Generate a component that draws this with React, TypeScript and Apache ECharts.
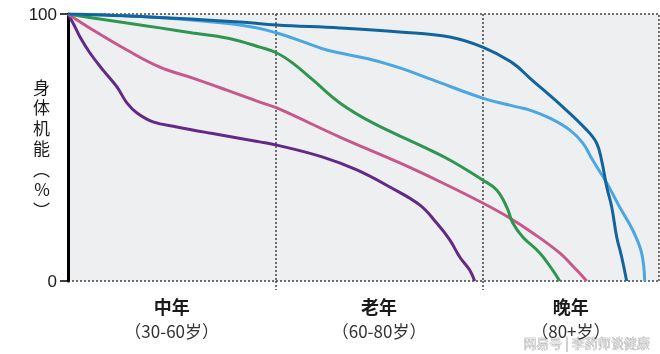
import React, { useEffect, useRef } from 'react';
import * as echarts from 'echarts';

// x: life-course position (0 = 30 yrs, 100 = 60 yrs, 200 = 80 yrs), y: body function %
const stageNames = ['中年', '老年', '晚年'];
const stageAges = ['（30-60岁）', '（60-80岁）', '（80+岁）'];
const stageCenters = [50, 150, 242.5];
const stageBounds = [100, 200];
const xMax = 285;
const yTickInterval = 100;
const yAxisName = '身\n体\n机\n能\n︵\n%\n︶';
const watermark = '网易号 | 李药师谈健康';

const darkBlue: [number, number][] = [
  [0, 100], [39.5, 98.9], [82.9, 97.0], [100.7, 95.9], [131.1, 94.8], [160, 93.3],
  [184.1, 91.4], [200, 87.6], [214.5, 81.6], [222.7, 76.0], [238.6, 65.2], [250.1, 56.6],
  [254.9, 51.7], [257.3, 45.3], [259.8, 35.2], [262.2, 27.7], [264.6, 16.5], [267.0, 9.0],
  [269.4, 0],
];
const lightBlue: [number, number][] = [
  [0, 100], [39.5, 98.9], [82.9, 95.9], [100.7, 92.9], [115.2, 89.1], [124.8, 86.5],
  [147, 82.8], [160, 79.8], [175.9, 75.3], [200, 68.5], [216.4, 65.2], [222.7, 64.0],
  [232.3, 61.0], [241.9, 56.6], [248.2, 51.7], [253, 45.3], [259.8, 36.7], [266.0, 27.7],
  [272.3, 19.1], [276.6, 10.5], [278.1, 0],
];
const green: [number, number][] = [
  [0, 100], [12, 98.5], [28.4, 96.6], [44.3, 94.8], [60.2, 92.9], [76.6, 91.0],
  [92.5, 87.6], [100.7, 85.4], [108.4, 81.6], [118.1, 75.3], [131.1, 66.7], [147, 59.2],
  [169.6, 50.9], [184.1, 45.3], [200, 37.8], [206.7, 34.1], [211.6, 27.7], [214.5, 21.7],
  [219.3, 16.5], [227.5, 10.5], [233.7, 4.1], [237.1, 0],
];
const pink: [number, number][] = [
  [0, 100], [12, 94.0], [28.4, 86.5], [44.3, 80.1], [60.2, 76.0], [76.6, 71.5],
  [92.5, 67.0], [100.7, 64.8], [131.1, 53.9], [160, 44.2], [180.7, 36.7], [200, 29.2],
  [213, 23.6], [224.1, 18.0], [237.1, 10.5], [245.3, 4.1], [250.1, 0],
];
const purple: [number, number][] = [
  [0, 100], [2.9, 95.9], [5.8, 91.4], [10.6, 85.4], [16.9, 79.0], [23.6, 72.7],
  [28.4, 66.7], [33.3, 62.9], [41, 59.6], [52.5, 57.7], [68.4, 55.4], [92.5, 52.1],
  [100.7, 50.9], [122.9, 46.4], [139.3, 41.6], [155.2, 35.2], [169.6, 28.5], [177.8, 21.7],
  [184.1, 15.4], [188.9, 9.0], [193.7, 4.1], [196.1, 0],
];

const seriesDefs = [
  { name: '深蓝', data: darkBlue, color: '#11659c' },
  { name: '浅蓝', data: lightBlue, color: '#4aa7e2' },
  { name: '绿', data: green, color: '#2f9651' },
  { name: '粉', data: pink, color: '#c7588b' },
  { name: '紫', data: purple, color: '#622a86' },
];

const dotted = { type: [2, 2] as number[], color: '#444', width: 1.5 };

export default function App() {
  const ref = useRef<HTMLDivElement>(null);
  useEffect(() => {
    if (!ref.current) return;
    const chart = echarts.init(ref.current, undefined, { renderer: 'svg' });
    const cjk = '"Noto Sans CJK SC", "Noto Sans", sans-serif';
    chart.setOption({
      animation: false,
      grid: {
        left: 68, top: 14, right: 1, bottom: 73,
        show: true, backgroundColor: '#eeeff1', borderWidth: 0,
      },
      xAxis: {
        type: 'value', min: 0, max: xMax, interval: 100,
        axisLine: { show: false },
        axisTick: { show: true, customValues: stageBounds, length: 9, lineStyle: dotted },
        splitLine: { show: true, lineStyle: dotted },
        axisLabel: {
          customValues: stageCenters,
          margin: 13,
          formatter: (v: number) => {
            let idx = 0;
            stageCenters.forEach((c, i) => { if (Math.abs(c - v) < Math.abs(stageCenters[idx] - v)) idx = i; });
            return `{a|${stageNames[idx]}}\n{b|${stageAges[idx]}}`;
          },
          rich: {
            a: { fontFamily: cjk, fontSize: 18, fontWeight: 'bold', color: '#1a1a1a', lineHeight: 24 },
            b: { fontFamily: cjk, fontSize: 17, color: '#333', lineHeight: 24 },
          },
        },
      },
      yAxis: {
        type: 'value', min: 0, max: 100, interval: yTickInterval,
        axisLine: { show: true, lineStyle: { color: '#000', width: 3 } },
        axisTick: { show: true, length: 8, lineStyle: { color: '#000', width: 1.5 } },
        axisLabel: { fontSize: 17, color: '#1a1a1a', margin: 11, fontFamily: '"Liberation Sans", Arial, sans-serif' },
        splitLine: { show: true, lineStyle: dotted },
        name: yAxisName,
        nameLocation: 'middle',
        nameRotate: 0,
        nameGap: 18,
        nameMoveOverlap: false,
        nameTextStyle: { fontFamily: cjk, fontSize: 17, lineHeight: 20.5, color: '#1a1a1a' },
      },
      series: seriesDefs.map((s, i) => ({
        type: 'line',
        name: s.name,
        data: s.data,
        smooth: 0.4,
        showSymbol: false,
        symbol: 'none',
        lineStyle: { color: s.color, width: 3 },
        itemStyle: { color: s.color },
        z: 10 - i,
        markLine: i === 0 ? {
          silent: true, symbol: 'none', label: { show: false },
          lineStyle: dotted,
          data: [{ xAxis: xMax }],
        } : undefined,
      })),
      graphic: [{
        type: 'text', right: 10, bottom: 5,
        style: {
          text: watermark, fontFamily: cjk, fontSize: 13,
          fill: '#e4e4e4', stroke: '#9a9a9a', lineWidth: 0.6,
        },
      }],
    });
    return () => chart.dispose();
  }, []);
  return <div ref={ref} style={{ position: 'fixed', left: 0, top: 0, width: 660, height: 354 }} />;
}
